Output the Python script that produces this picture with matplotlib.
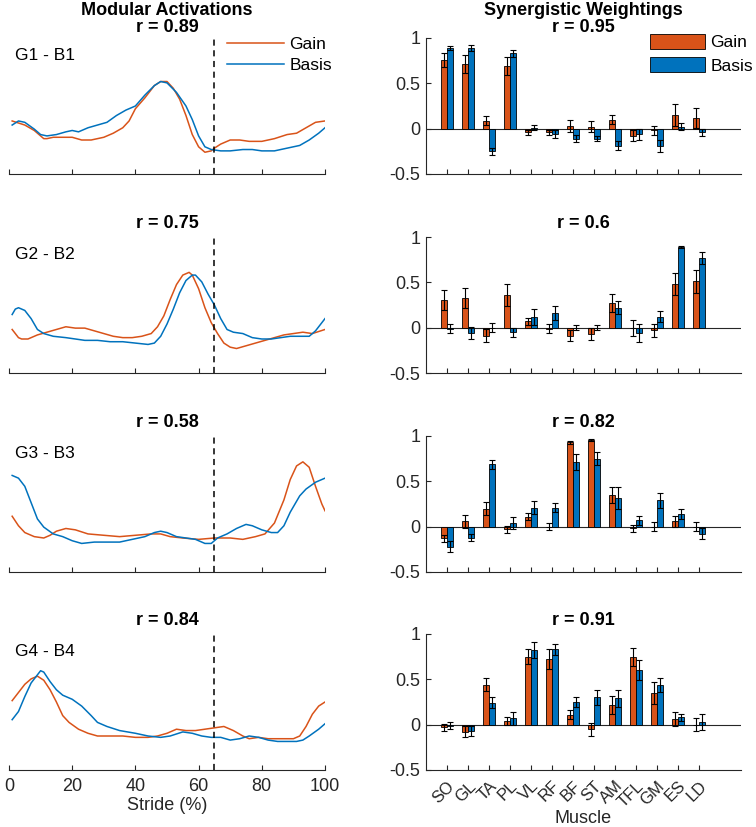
import numpy as np
import matplotlib
matplotlib.use('Agg')
import matplotlib.pyplot as plt

plt.rcParams['font.family'] = ['Liberation Sans', 'DejaVu Sans']

GAIN_C = '#D95319'
BASIS_C = '#0072BD'
AX_C = '#262626'

muscles = ['SO', 'GL', 'TA', 'PL', 'VL', 'RF', 'BF', 'ST', 'AM', 'TFL', 'GM', 'ES', 'LD']

# correlation values shown in the titles
r_act = [0.89, 0.75, 0.58, 0.84]
r_w = [0.95, 0.6, 0.82, 0.91]

# ---- modular activations (stride %, normalised activation) ----
x_g1 = [1, 5, 8, 10, 11, 12, 14, 17, 20, 23, 26, 30, 33, 36, 38, 40, 43, 46, 48, 50, 52, 54, 56, 58, 60,
        62, 64, 65, 67, 70, 73, 76, 80, 84, 88, 91, 94, 97, 100]
g1 = [0.39, 0.36, 0.32, 0.28, 0.26, 0.26, 0.27, 0.27, 0.27, 0.25, 0.25, 0.27, 0.30, 0.34, 0.39, 0.48, 0.56,
      0.65, 0.68, 0.68, 0.63, 0.55, 0.43, 0.29, 0.20, 0.16, 0.17, 0.19, 0.22, 0.25, 0.25, 0.24, 0.24, 0.26,
      0.29, 0.30, 0.34, 0.38, 0.39]
x_b1 = [1, 3, 5, 8, 10, 12, 15, 18, 20, 22, 25, 28, 31, 34, 37, 40, 43, 46, 48, 50, 53, 56, 58, 60, 62, 64,
        67, 70, 74, 77, 80, 84, 88, 92, 95, 98, 100]
b1 = [0.36, 0.39, 0.38, 0.33, 0.29, 0.28, 0.29, 0.31, 0.32, 0.31, 0.34, 0.36, 0.38, 0.43, 0.47, 0.50, 0.58,
      0.65, 0.68, 0.67, 0.60, 0.50, 0.40, 0.28, 0.20, 0.18, 0.17, 0.17, 0.18, 0.18, 0.17, 0.17, 0.19, 0.21,
      0.25, 0.30, 0.34]

x_g2 = [1, 3, 4, 6, 9, 12, 15, 18, 21, 24, 27, 30, 33, 36, 39, 42, 45, 47, 49, 51, 53, 55, 57, 58, 60, 62,
        64, 66, 68, 70, 72, 75, 78, 81, 84, 87, 90, 93, 96, 100]
g2 = [0.32, 0.26, 0.25, 0.25, 0.28, 0.30, 0.32, 0.34, 0.33, 0.33, 0.31, 0.29, 0.27, 0.26, 0.26, 0.27, 0.29,
      0.34, 0.42, 0.54, 0.65, 0.72, 0.74, 0.72, 0.62, 0.48, 0.37, 0.29, 0.22, 0.19, 0.18, 0.20, 0.22, 0.24,
      0.26, 0.28, 0.29, 0.30, 0.29, 0.32]
x_b2 = [1, 2, 3, 5, 7, 9, 11, 14, 18, 21, 24, 28, 32, 36, 40, 44, 46, 48, 50, 52, 54, 56, 58, 59, 61, 63,
        65, 67, 69, 71, 74, 77, 80, 83, 86, 89, 92, 95, 97, 99, 100]
b2 = [0.43, 0.47, 0.48, 0.46, 0.40, 0.32, 0.29, 0.27, 0.26, 0.25, 0.24, 0.24, 0.23, 0.23, 0.22, 0.21, 0.22,
      0.27, 0.36, 0.47, 0.59, 0.68, 0.72, 0.72, 0.67, 0.58, 0.50, 0.40, 0.32, 0.30, 0.29, 0.26, 0.25, 0.25,
      0.26, 0.27, 0.27, 0.27, 0.31, 0.37, 0.40]

x_g3 = [1, 3, 5, 8, 11, 13, 15, 18, 21, 25, 30, 35, 40, 45, 48, 51, 55, 60, 65, 70, 74, 78, 81, 84, 87, 89,
        91, 93, 95, 97, 99, 100]
g3 = [0.41, 0.34, 0.29, 0.26, 0.25, 0.27, 0.30, 0.32, 0.31, 0.28, 0.27, 0.26, 0.27, 0.28, 0.28, 0.26, 0.25,
      0.24, 0.25, 0.25, 0.24, 0.26, 0.28, 0.36, 0.53, 0.68, 0.78, 0.81, 0.77, 0.63, 0.50, 0.45]
x_b3 = [1, 3, 5, 7, 9, 11, 14, 17, 20, 23, 27, 31, 35, 39, 43, 46, 48, 50, 53, 56, 59, 62, 64, 66, 69, 72,
        75, 77, 80, 83, 85, 87, 89, 92, 94, 97, 100]
b3 = [0.71, 0.69, 0.63, 0.51, 0.39, 0.33, 0.28, 0.26, 0.23, 0.21, 0.22, 0.22, 0.22, 0.24, 0.26, 0.29, 0.30,
      0.29, 0.26, 0.25, 0.24, 0.21, 0.21, 0.25, 0.28, 0.32, 0.35, 0.34, 0.31, 0.29, 0.29, 0.34, 0.44, 0.56,
      0.61, 0.66, 0.69]

x_g4 = [1, 3, 5, 7, 9, 11, 13, 15, 17, 19, 22, 25, 28, 32, 36, 40, 44, 47, 50, 53, 56, 59, 62, 65, 68, 71,
        74, 76, 79, 82, 86, 90, 92, 94, 96, 98, 100]
g4 = [0.51, 0.57, 0.63, 0.67, 0.69, 0.66, 0.59, 0.50, 0.40, 0.35, 0.30, 0.27, 0.25, 0.25, 0.25, 0.24, 0.24,
      0.25, 0.27, 0.30, 0.29, 0.29, 0.30, 0.31, 0.32, 0.29, 0.25, 0.23, 0.24, 0.23, 0.23, 0.23, 0.25, 0.32,
      0.41, 0.47, 0.50]
x_b4 = [1, 3, 5, 7, 9, 10, 11, 13, 15, 17, 20, 23, 26, 28, 31, 35, 40, 44, 48, 51, 55, 58, 61, 64, 67, 70,
        73, 76, 79, 82, 85, 88, 91, 93, 95, 98, 100]
b4 = [0.37, 0.43, 0.54, 0.64, 0.70, 0.73, 0.72, 0.65, 0.59, 0.55, 0.52, 0.47, 0.40, 0.35, 0.32, 0.29, 0.27,
      0.25, 0.24, 0.25, 0.28, 0.27, 0.25, 0.24, 0.24, 0.22, 0.23, 0.25, 0.24, 0.22, 0.21, 0.21, 0.21, 0.22,
      0.25, 0.30, 0.34]

# ---- synergistic weightings (mean and error per muscle) ----
w_g1 = [0.76, 0.71, 0.09, 0.69, -0.04, -0.04, 0.03, 0.02, 0.10, -0.08, -0.02, 0.15, 0.12]
e_g1 = [0.08, 0.10, 0.05, 0.10, 0.03, 0.03, 0.07, 0.06, 0.05, 0.06, 0.05, 0.12, 0.11]
w_b1 = [0.89, 0.89, -0.25, 0.83, 0.01, -0.06, -0.11, -0.11, -0.19, -0.06, -0.19, 0.02, -0.04]
e_b1 = [0.02, 0.03, 0.04, 0.04, 0.03, 0.04, 0.04, 0.03, 0.05, 0.06, 0.07, 0.04, 0.04]

w_g2 = [0.31, 0.33, -0.09, 0.36, 0.07, -0.01, -0.09, -0.07, 0.27, 0.00, -0.03, 0.48, 0.51]
e_g2 = [0.11, 0.11, 0.07, 0.12, 0.04, 0.05, 0.06, 0.07, 0.10, 0.09, 0.07, 0.12, 0.13]
w_b2 = [-0.01, -0.06, 0.00, -0.05, 0.12, 0.16, 0.00, 0.00, 0.22, -0.06, 0.12, 0.89, 0.77]
e_b2 = [0.05, 0.07, 0.05, 0.05, 0.09, 0.08, 0.03, 0.03, 0.07, 0.10, 0.06, 0.01, 0.07]

w_g3 = [-0.13, 0.06, 0.20, -0.03, 0.11, 0.00, 0.93, 0.96, 0.35, -0.02, 0.00, 0.06, 0.00]
e_g3 = [0.04, 0.07, 0.07, 0.04, 0.04, 0.04, 0.02, 0.01, 0.09, 0.04, 0.05, 0.06, 0.05]
w_b3 = [-0.22, -0.12, 0.69, 0.04, 0.21, 0.21, 0.71, 0.75, 0.32, 0.07, 0.29, 0.14, -0.08]
e_b3 = [0.06, 0.04, 0.05, 0.07, 0.07, 0.05, 0.09, 0.07, 0.12, 0.05, 0.08, 0.06, 0.06]

w_g4 = [-0.03, -0.08, 0.44, 0.04, 0.75, 0.72, 0.11, -0.05, 0.22, 0.75, 0.35, 0.06, 0.00]
e_g4 = [0.04, 0.06, 0.07, 0.04, 0.08, 0.11, 0.05, 0.07, 0.10, 0.10, 0.12, 0.08, 0.07]
w_b4 = [-0.01, -0.07, 0.24, 0.07, 0.82, 0.83, 0.25, 0.30, 0.29, 0.60, 0.44, 0.08, 0.03]
e_b4 = [0.04, 0.05, 0.06, 0.07, 0.09, 0.06, 0.06, 0.08, 0.09, 0.11, 0.08, 0.04, 0.09]

acts = [(x_g1, g1, x_b1, b1), (x_g2, g2, x_b2, b2), (x_g3, g3, x_b3, b3), (x_g4, g4, x_b4, b4)]
weights = [(w_g1, e_g1, w_b1, e_b1), (w_g2, e_g2, w_b2, e_b2),
           (w_g3, e_g3, w_b3, e_b3), (w_g4, e_g4, w_b4, e_b4)]

W, H = 756, 827
fig = plt.figure(figsize=(W / 100, H / 100), dpi=100)

bottoms = [174, 373, 572, 770]   # axes bottoms in px
ah = 136
fs = 13      # tick / axis labels
fs_t = 12.5  # legends and panel labels
fs_b = 13    # bold titles

def style(ax):
    for s in ax.spines.values():
        s.set_color(AX_C)
        s.set_linewidth(0.8)
    ax.spines['top'].set_visible(False)
    ax.spines['right'].set_visible(False)
    ax.tick_params(direction='in', length=3.5, width=0.8, color=AX_C, labelcolor=AX_C, labelsize=fs)

xpos = np.arange(1, len(muscles) + 1)
bw = 0.28

for i in range(4):
    yb = 1 - bottoms[i] / H
    # left: activations
    ax = fig.add_axes([9 / W, yb, 316 / W, ah / H])
    style(ax)
    ax.spines['left'].set_visible(False)
    xg, g, xb, b = acts[i]
    ax.plot(xg, g, color=GAIN_C, lw=1.1, label='Gain')
    ax.plot(xb, b, color=BASIS_C, lw=1.1, label='Basis')
    ax.axvline(65, color='k', ls=(0, (4, 3)), lw=1.1)
    ax.set_xlim(0, 100)
    ax.set_ylim(0, 1)
    ax.set_yticks([])
    ax.set_xticks([0, 20, 40, 60, 80, 100])
    ax.tick_params(axis='x', pad=6)
    ax.text(0.02, 0.835, f'G{i+1} - B{i+1}', transform=ax.transAxes, fontsize=fs_t, color='k')
    if i == 0:
        ax.set_title(f'Modular Activations\nr = {r_act[i]}', fontsize=fs_b, fontweight='bold', pad=4,
                     linespacing=1.05)
        ax.legend(loc='upper left', bbox_to_anchor=(0.69, 1.01), frameon=False, fontsize=fs_t,
                  handlelength=3.3, handletextpad=0.3, labelspacing=0.35, borderpad=0, borderaxespad=0)
    else:
        ax.set_title(f'r = {r_act[i]}', fontsize=fs_b, fontweight='bold', pad=6.5)
    if i == 3:
        ax.set_xlabel('Stride (%)', fontsize=fs, color=AX_C, labelpad=1)
    else:
        ax.set_xticklabels([])

    # right: weightings
    ax = fig.add_axes([426 / W, yb, 315 / W, ah / H])
    style(ax)
    wg, eg, wb, eb = weights[i]
    ax.axhline(0, color=AX_C, lw=0.8, zorder=1)
    ax.bar(xpos - bw / 2, wg, bw, color=GAIN_C, edgecolor='k', lw=0.6, zorder=2, label='Gain')
    ax.bar(xpos + bw / 2, wb, bw, color=BASIS_C, edgecolor='k', lw=0.6, zorder=2, label='Basis')
    ax.errorbar(xpos - bw / 2, wg, yerr=eg, fmt='none', ecolor='k', elinewidth=0.8, capsize=2.5,
                capthick=0.8, zorder=3)
    ax.errorbar(xpos + bw / 2, wb, yerr=eb, fmt='none', ecolor='k', elinewidth=0.8, capsize=2.5,
                capthick=0.8, zorder=3)
    ax.set_xlim(0, 15)
    ax.set_ylim(-0.5, 1)
    ax.set_yticks([-0.5, 0, 0.5, 1])
    ax.set_yticklabels(['-0.5', '0', '0.5', '1'])
    ax.set_xticks(xpos)
    ax.tick_params(axis='y', pad=4)
    if i == 0:
        ax.set_title(f'Synergistic Weightings\nr = {r_w[i]}', fontsize=fs_b, fontweight='bold', pad=4,
                     linespacing=1.05)
        ax.legend(loc='upper left', bbox_to_anchor=(0.71, 1.03), frameon=False, fontsize=fs_t,
                  handlelength=3.2, handleheight=0.95, handletextpad=0.3, labelspacing=0.4,
                  borderpad=0, borderaxespad=0)
    else:
        ax.set_title(f'r = {r_w[i]}', fontsize=fs_b, fontweight='bold', pad=6.5)
    if i == 3:
        ax.set_xticklabels(muscles, rotation=45, ha='right', va='top', rotation_mode='anchor',
                           fontsize=12)
        ax.tick_params(axis='x', pad=6)
        ax.set_xlabel('Muscle', fontsize=fs, color=AX_C, labelpad=0)
    else:
        ax.set_xticklabels([])

fig.savefig('out.png', dpi=100)
